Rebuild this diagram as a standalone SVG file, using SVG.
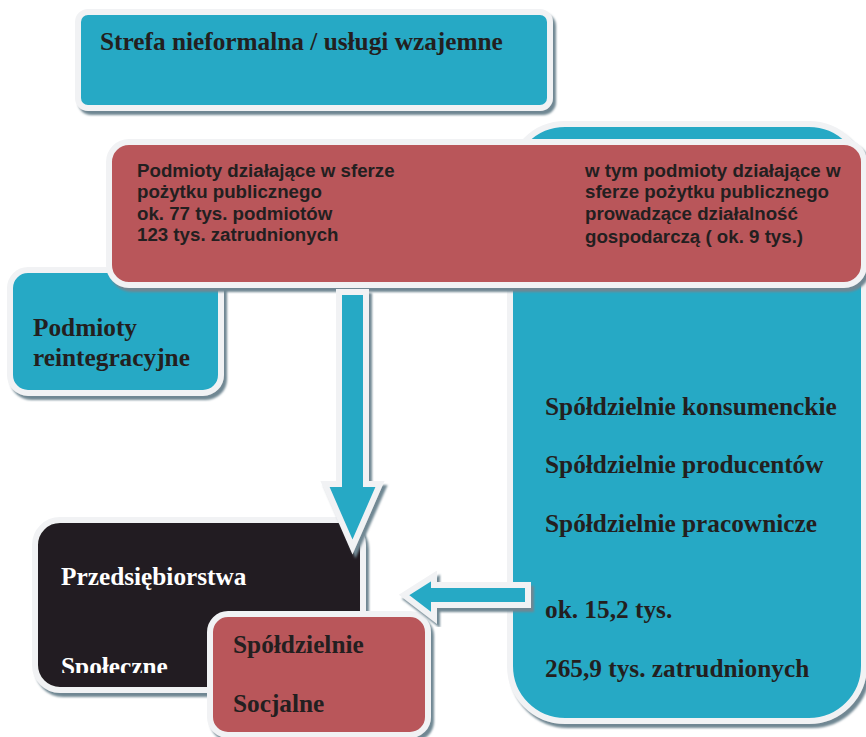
<svg xmlns="http://www.w3.org/2000/svg" width="866" height="737" viewBox="0 0 866 737">
<defs>
<filter id="sh" x="-10%" y="-10%" width="130%" height="130%">
<feDropShadow dx="3" dy="4" stdDeviation="0.8" flood-color="#6F8793" flood-opacity="1"/>
</filter>
<clipPath id="clipSpol"><rect x="38" y="523" width="322" height="150"/></clipPath>
<style>
.box{stroke:#F1F2F4;stroke-width:6;filter:url(#sh)}
.teal{fill:#28A9C5}
.red{fill:#B9575A}
.dark{fill:#231F20}
.serif{font-family:"Liberation Serif","Times New Roman",serif;font-weight:bold;font-size:25.3px;fill:#231F20}
.sans{font-family:"Liberation Sans",Arial,sans-serif;font-weight:bold;font-size:18.7px;fill:#231F20}
.white{fill:#FFFFFF}
.arrow{fill:#28A9C5;stroke:#F1F2F4;stroke-width:6;stroke-linejoin:miter;filter:url(#sh)}
</style>
</defs>
<rect width="866" height="737" fill="#FFFFFF"/>

<g id="node-strefa">
<rect class="box teal" x="78" y="12" width="472" height="96" rx="10"/>
<text class="serif" x="100" y="50">Strefa nieformalna / usługi wzajemne</text>
</g>

<g id="node-spoldzielnie">
<rect class="box teal" x="510" y="124" width="354" height="597" rx="55"/>
<text class="serif" x="545" y="415">Spółdzielnie konsumenckie</text>
<text class="serif" x="545" y="473">Spółdzielnie producentów</text>
<text class="serif" x="545" y="532">Spółdzielnie pracownicze</text>
<text class="serif" x="545" y="618">ok. 15,2 tys.</text>
<text class="serif" x="545" y="677">265,9 tys. zatrudnionych</text>
</g>

<g id="node-reintegracyjne">
<rect class="box teal" x="10" y="270" width="211" height="123" rx="18"/>
<text class="serif" x="33" y="336">Podmioty</text>
<text class="serif" x="33" y="366">reintegracyjne</text>
</g>

<g id="node-pozytek">
<rect class="box red" x="109" y="142" width="755" height="143" rx="20"/>
<text class="sans" x="137" y="177">Podmioty działające w sferze</text>
<text class="sans" x="137" y="198">pożytku publicznego</text>
<text class="sans" x="137" y="220">ok. 77 tys. podmiotów</text>
<text class="sans" x="137" y="241">123 tys. zatrudnionych</text>
<text class="sans" x="585" y="177">w tym podmioty działające w</text>
<text class="sans" x="585" y="198">sferze pożytku publicznego</text>
<text class="sans" x="585" y="220">prowadzące działalność</text>
<text class="sans" x="585" y="243">gospodarczą ( ok. 9 tys.)</text>
</g>

<g id="node-przedsiebiorstwa">
<rect class="box dark" x="35" y="520" width="328" height="170" rx="25"/>
<text class="serif white" x="61" y="585">Przedsiębiorstwa</text>
<text class="serif white" x="61" y="675" clip-path="url(#clipSpol)">Społeczne</text>
</g>

<g id="node-socjalne">
<rect class="box red" x="210" y="614" width="218" height="121" rx="18"/>
<text class="serif" x="233" y="653">Spółdzielnie</text>
<text class="serif" x="233" y="712">Socjalne</text>
</g>

<g id="connectors">
<polygon class="arrow" points="339,292 366,292 366,484 380,484 352.5,547 325,484 339,484"/>
<polygon class="arrow" points="528,585 528,605 434,605 434,618 404,595 434,576 434,585"/>
</g>
</svg>
